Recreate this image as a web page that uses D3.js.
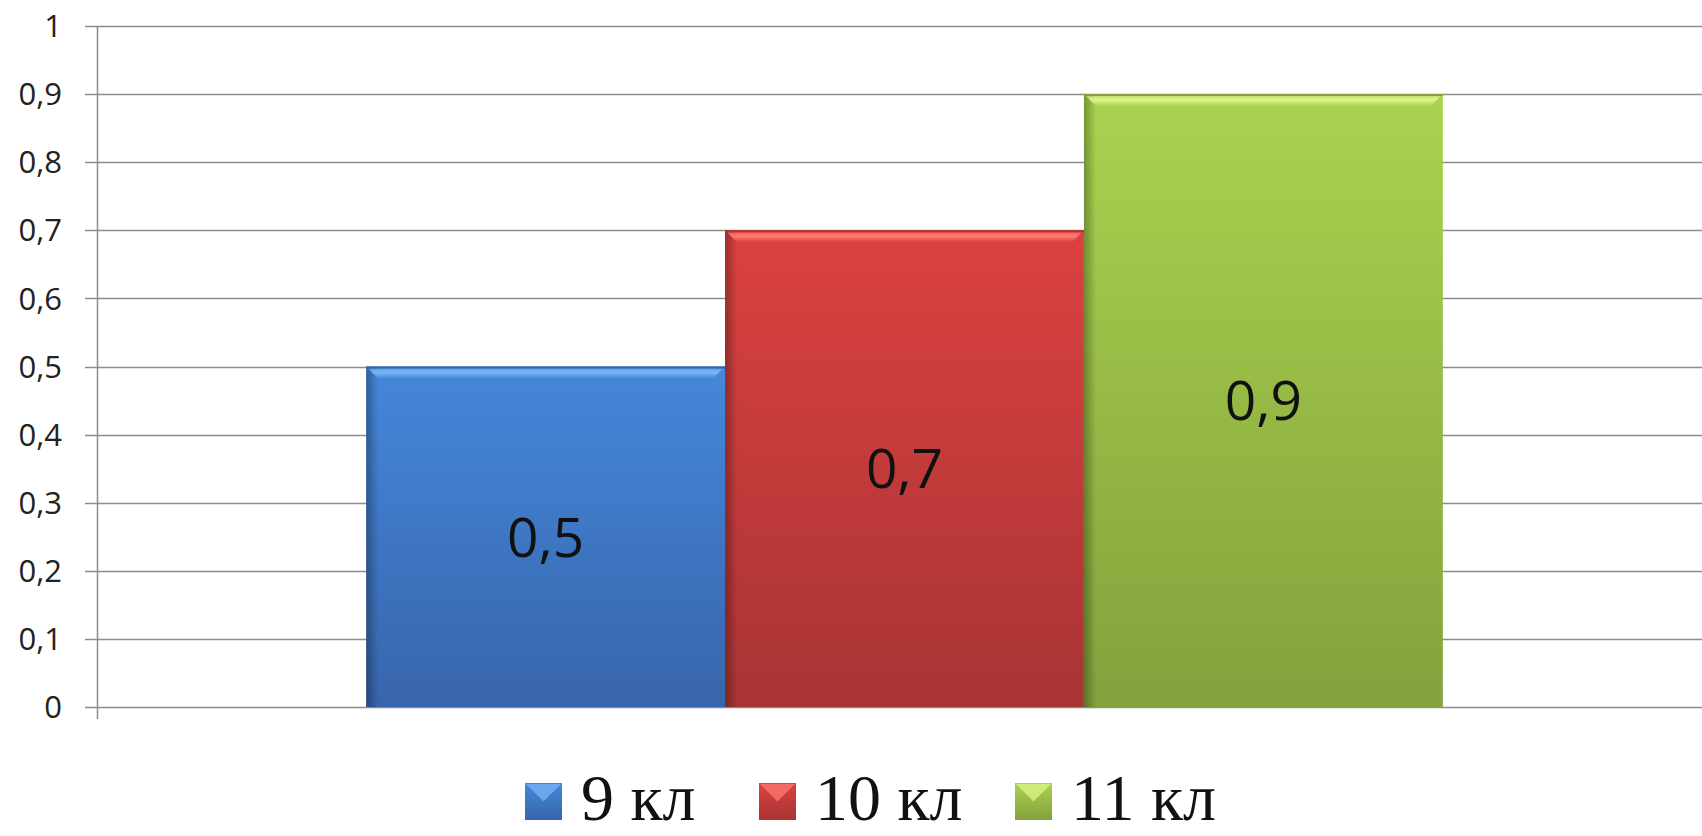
<!DOCTYPE html>
<html>
<head>
<meta charset="utf-8">
<script src="https://cdn.jsdelivr.net/npm/d3@7"></script>
<style>
  html, body { margin: 0; padding: 0; background: #fff; }
  svg { display: block; }
</style>
</head>
<body>
<svg id="chart" width="1702" height="836"></svg>
<script>
// Data
const categories = [""];
const seriesNames = ["9 кл", "10 кл", "11 кл"];
const seriesValues = [0.5, 0.7, 0.9];
const yTicks = [0, 0.1, 0.2, 0.3, 0.4, 0.5, 0.6, 0.7, 0.8, 0.9, 1];

// colours: top, bottom of each bar gradient, and highlight strip
const topColors = ["#4587da", "#db4140", "#a9d34f"];
const bottomColors = ["#3765ab", "#a83434", "#84a13c"];
const lightColors = ["#7ab4f5", "#ff7a72", "#dcf58a"];

const width = 1702, height = 836;
const margin = { top: 26, bottom: 707, left: 97 };

const svg = d3.select("#chart");
const fmt = v => String(v).replace(".", ",");

// y scale
const y = d3.scaleLinear()
    .domain([0, 1])
    .range([margin.bottom, margin.top]);

// outer category band (single category), inner series band
const x0 = d3.scaleBand()
    .domain(categories)
    .range([margin.left, 1712])
    .paddingInner(0)
    .paddingOuter(0.25);

const x1 = d3.scaleBand()
    .domain(seriesNames)
    .range([0, x0.bandwidth()])
    .padding(0);

// gradients
const defs = svg.append("defs");
seriesNames.forEach((s, i) => {
    const g = defs.append("linearGradient")
        .attr("id", "grad" + i)
        .attr("x1", 0).attr("y1", 0).attr("x2", 0).attr("y2", 1);
    g.append("stop").attr("offset", "0%").attr("stop-color", topColors[i]);
    g.append("stop").attr("offset", "100%").attr("stop-color", bottomColors[i]);

    const h = defs.append("linearGradient")
        .attr("id", "side" + i)
        .attr("x1", 0).attr("y1", 0).attr("x2", 1).attr("y2", 0);
    h.append("stop").attr("offset", "0%").attr("stop-color", "#000").attr("stop-opacity", 0.3);
    h.append("stop").attr("offset", "100%").attr("stop-color", "#000").attr("stop-opacity", 0);

    const t = defs.append("linearGradient")
        .attr("id", "top" + i)
        .attr("x1", 0).attr("y1", 0).attr("x2", 0).attr("y2", 1);
    t.append("stop").attr("offset", "0%").attr("stop-color", lightColors[i]).attr("stop-opacity", 0.6);
    t.append("stop").attr("offset", "40%").attr("stop-color", lightColors[i]).attr("stop-opacity", 1);
    t.append("stop").attr("offset", "100%").attr("stop-color", topColors[i]).attr("stop-opacity", 1);
});

// gridlines
svg.append("g")
    .selectAll("line")
    .data(yTicks)
    .enter()
    .append("line")
    .attr("x1", margin.left - 12)
    .attr("x2", width)
    .attr("y1", d => Math.round(y(d)) + 0.5)
    .attr("y2", d => Math.round(y(d)) + 0.5)
    .attr("stroke", "#8c8c8c")
    .attr("stroke-width", 1.5);

// y axis line
svg.append("line")
    .attr("x1", margin.left + 0.5)
    .attr("x2", margin.left + 0.5)
    .attr("y1", y(1))
    .attr("y2", y(0) + 12)
    .attr("stroke", "#8c8c8c")
    .attr("stroke-width", 1.5);

// y tick labels
svg.append("g")
    .selectAll("text")
    .data(yTicks)
    .enter()
    .append("text")
    .attr("x", 62)
    .attr("y", d => y(d))
    .attr("dy", "0.36em")
    .attr("text-anchor", "end")
    .attr("font-family", "'Open Sans', 'Noto Sans', sans-serif")
    .attr("font-size", 31)
    .attr("fill", "#222")
    .text(d => fmt(d));

// bars
const bars = svg.append("g")
    .selectAll("g")
    .data(seriesValues)
    .enter()
    .append("g")
    .attr("transform", (d, i) => `translate(${x0(categories[0]) + x1(seriesNames[i])},0)`);

bars.append("rect")
    .attr("x", 0)
    .attr("y", d => y(d))
    .attr("width", x1.bandwidth())
    .attr("height", d => y(0) - y(d))
    .attr("fill", (d, i) => `url(#grad${i})`);

// left edge shading
bars.append("rect")
    .attr("x", 0)
    .attr("y", d => y(d))
    .attr("width", 12)
    .attr("height", d => y(0) - y(d))
    .attr("fill", (d, i) => `url(#side${i})`);

// top bevel highlight with diagonal corners
bars.append("path")
    .attr("d", d => {
        const w = x1.bandwidth(), t = y(d) + 2;
        return `M2,${t} L${w - 2},${t} L${w - 12},${t + 10} L12,${t + 10} Z`;
    })
    .attr("fill", (d, i) => `url(#top${i})`);

bars.append("rect")
    .attr("x", 0)
    .attr("y", d => y(d))
    .attr("width", x1.bandwidth())
    .attr("height", 2)
    .attr("fill", (d, i) => bottomColors[i]);

// data labels
bars.append("text")
    .attr("x", x1.bandwidth() / 2)
    .attr("y", d => (y(d) + y(0)) / 2)
    .attr("dy", "0.36em")
    .attr("text-anchor", "middle")
    .attr("font-family", "'Open Sans', 'Noto Sans', sans-serif")
    .attr("font-size", 55)
    .attr("fill", "#111")
    .text(d => fmt(d));

// legend
const legendX = [525, 759, 1015];
const legend = svg.append("g")
    .selectAll("g")
    .data(seriesNames)
    .enter()
    .append("g")
    .attr("transform", (d, i) => `translate(${legendX[i]},783)`);

legend.append("rect")
    .attr("width", 37)
    .attr("height", 37)
    .attr("fill", (d, i) => `url(#grad${i})`);

legend.append("path")
    .attr("d", "M1,1 L36,1 L18.5,18.5 Z")
    .attr("fill", (d, i) => lightColors[i])
    .attr("opacity", 0.75);

legend.append("text")
    .attr("x", 56)
    .attr("y", 37)
    .attr("font-family", "'Liberation Serif', 'DejaVu Serif', serif")
    .attr("font-size", 66)
    .attr("fill", "#111")
    .text(d => d);
</script>
</body>
</html>
